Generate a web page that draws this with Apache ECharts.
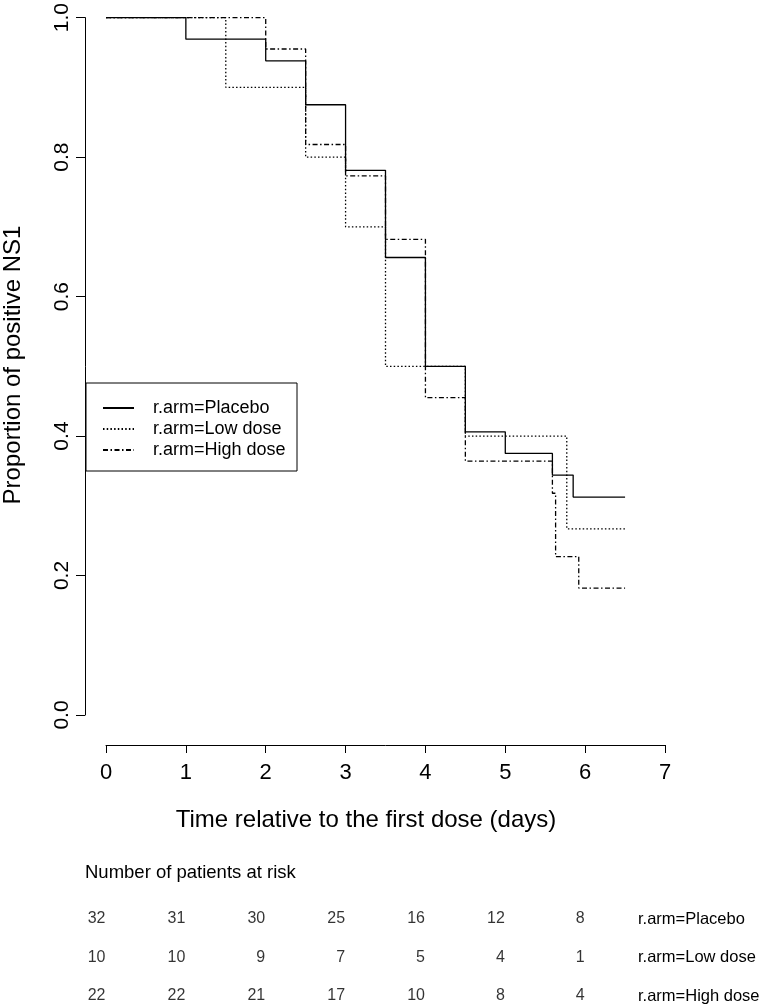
<!DOCTYPE html>
<html>
<head>
<meta charset="utf-8">
<script src="https://cdn.jsdelivr.net/npm/echarts@6/dist/echarts.min.js"></script>
<style>
html,body{margin:0;padding:0;background:#fff;}
#chart{width:760px;height:1004px;}
</style>
</head>
<body>
<div id="chart"></div>
<script>
// ---- data ----
const armNames = ['r.arm=Placebo', 'r.arm=Low dose', 'r.arm=High dose'];

const placeboTimes = [0, 1, 2, 2.5, 3, 3.5, 4, 4.5, 5, 5.59, 5.85, 6.5];
const placeboSurv  = [1, 0.969, 0.938, 0.875, 0.781, 0.656, 0.5, 0.406, 0.375, 0.344, 0.3125, 0.3125];

const lowTimes = [0, 1.5, 2.5, 3, 3.5, 4.5, 5.77, 6.52];
const lowSurv  = [1, 0.9, 0.8, 0.7, 0.5, 0.4, 0.267, 0.267];

const highTimes = [0, 2, 2.5, 3, 3.5, 4, 4.5, 5.59, 5.63, 5.92, 6.5];
const highSurv  = [1, 0.955, 0.818, 0.773, 0.682, 0.455, 0.364, 0.318, 0.227, 0.182, 0.182];

const xTicks = [0, 1, 2, 3, 4, 5, 6, 7];
const yTicks = [0, 0.2, 0.4, 0.6, 0.8, 1.0];

const riskTimes   = [0, 1, 2, 3, 4, 5, 6];
const riskPlacebo = [32, 31, 30, 25, 16, 12, 8];
const riskLow     = [10, 10, 9, 7, 5, 4, 1];
const riskHigh    = [22, 22, 21, 17, 10, 8, 4];

const xTitle = 'Time relative to the first dose (days)';
const yTitle = 'Proportion of positive NS1';
const riskTitle = 'Number of patients at risk';

// ---- chart ----
const FONT = '"Liberation Sans", Arial, Helvetica, sans-serif';
const chart = echarts.init(document.getElementById('chart'), null, {renderer: 'canvas'});

function pairs(t, s) { return t.map((v, i) => [v, s[i]]); }

const lineStyles = [
  {color: '#000', width: 1.3, type: 'solid'},
  {color: '#000', width: 1.3, type: [1.5, 2.2]},
  {color: '#000', width: 1.3, type: [5, 2.5, 1.5, 2.5]}
];
const curveData = [pairs(placeboTimes, placeboSurv), pairs(lowTimes, lowSurv), pairs(highTimes, highSurv)];
const riskRows = [riskPlacebo, riskLow, riskHigh];

const series = [];
armNames.forEach((name, k) => {
  series.push({
    name: name, type: 'line', xAxisIndex: 0, yAxisIndex: 0,
    step: 'end', symbol: 'none', showSymbol: false,
    data: curveData[k], lineStyle: lineStyles[k], itemStyle: {color: '#000'},
    emphasis: {disabled: true}, silent: true, z: 2
  });
});
riskRows.forEach((row, k) => {
  series.push({
    name: 'risk' + k, type: 'scatter', xAxisIndex: 1, yAxisIndex: 1,
    symbolSize: 1, itemStyle: {color: 'rgba(0,0,0,0)'},
    data: riskTimes.map((t, i) => [t, k, row[i]]),
    label: {
      show: true, position: 'left', distance: 0,
      formatter: p => String(p.value[2]),
      color: '#000', fontSize: 16, fontFamily: FONT
    },
    silent: true
  });
});

const axisLineStyle = {color: '#000', width: 1};

const option = {
  animation: false,
  backgroundColor: '#fff',
  grid: [
    {left: 106, width: 559, top: 15, height: 700},
    {left: 106, width: 559, top: 919, height: 77}
  ],
  xAxis: [
    {
      type: 'value', gridIndex: 0, min: xTicks[0], max: xTicks[xTicks.length - 1], interval: 1,
      offset: 30,
      axisLine: {show: true, onZero: false, lineStyle: axisLineStyle},
      axisTick: {show: true, length: 8, lineStyle: axisLineStyle},
      axisLabel: {color: '#000', fontSize: 22, fontFamily: FONT, margin: 17},
      splitLine: {show: false}
    },
    {type: 'value', gridIndex: 1, min: 0, max: 7, show: false}
  ],
  yAxis: [
    {
      type: 'value', gridIndex: 0, min: yTicks[0], max: yTicks[yTicks.length - 1], interval: 0.2,
      offset: 21,
      axisLine: {show: true, onZero: false, lineStyle: axisLineStyle},
      axisTick: {show: true, length: 9, lineStyle: axisLineStyle},
      axisLabel: {color: '#000', fontSize: 21, fontFamily: FONT, rotate: 90, margin: 12,
                  formatter: v => v.toFixed(1)},
      splitLine: {show: false}
    },
    {type: 'value', gridIndex: 1, min: 0, max: 2, inverse: true, show: false}
  ],
  legend: {
    data: armNames,
    orient: 'vertical', left: 97, top: 393,
    itemWidth: 31, itemHeight: 14, itemGap: 1,
    itemStyle: {opacity: 0, color: 'rgba(0,0,0,0)', borderWidth: 0},
    textStyle: {color: '#000', fontSize: 18, fontFamily: FONT, lineHeight: 20, padding: [0, 0, 0, 14]},
    selectedMode: false, z: 6
  },
  graphic: [
    {type: 'rect', shape: {x: 86, y: 383, width: 211, height: 88},
     style: {fill: '#fff', stroke: '#000', lineWidth: 1}, z: 5, silent: true},
    {type: 'text', x: 366, y: 820,
     style: {text: xTitle, font: '24px ' + FONT, fill: '#000', textAlign: 'center', textVerticalAlign: 'middle'}},
    {type: 'text', x: 13, y: 365, rotation: Math.PI / 2,
     style: {text: yTitle, font: '24px ' + FONT, fill: '#000', textAlign: 'center', textVerticalAlign: 'middle'}},
    {type: 'text', x: 85, y: 873,
     style: {text: riskTitle, font: '18.5px ' + FONT, fill: '#000', textAlign: 'left', textVerticalAlign: 'middle'}},
    {type: 'text', x: 638, y: 919,
     style: {text: armNames[0], font: '16.5px ' + FONT, fill: '#000', textAlign: 'left', textVerticalAlign: 'middle'}},
    {type: 'text', x: 638, y: 957.5,
     style: {text: armNames[1], font: '16.5px ' + FONT, fill: '#000', textAlign: 'left', textVerticalAlign: 'middle'}},
    {type: 'text', x: 638, y: 996,
     style: {text: armNames[2], font: '16.5px ' + FONT, fill: '#000', textAlign: 'left', textVerticalAlign: 'middle'}}
  ],
  series: series
};
chart.setOption(option);
</script>
</body>
</html>
